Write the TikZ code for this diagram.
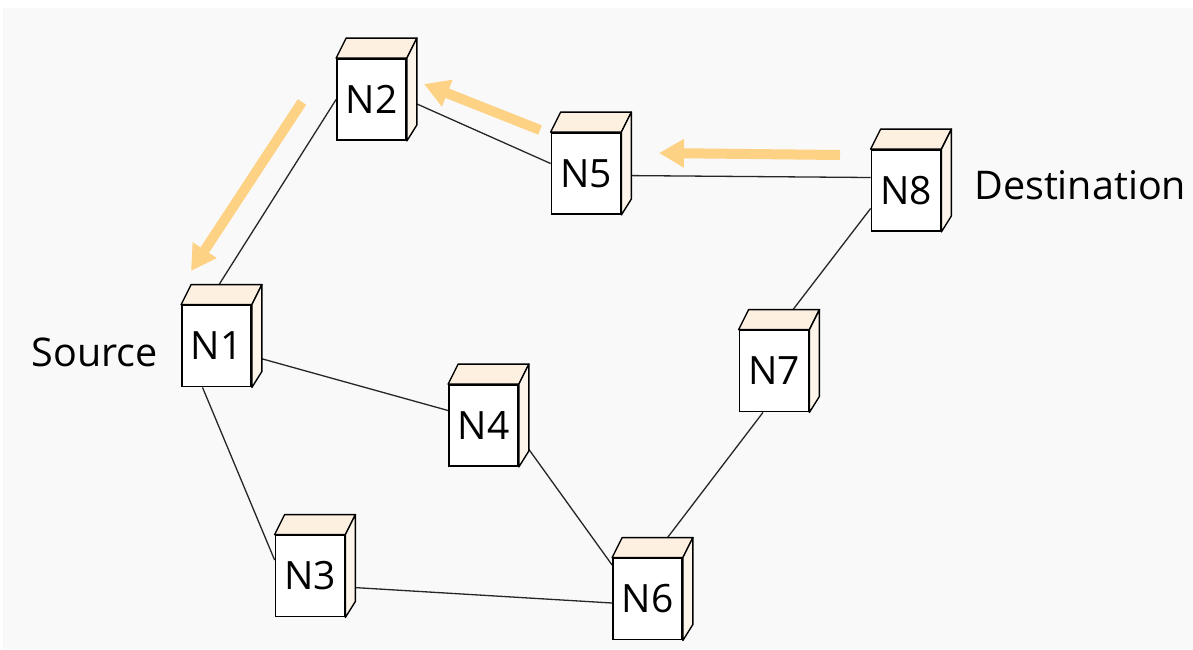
\documentclass[tikz,border=0pt]{standalone}
\usepackage{fontspec}
\setmainfont{Open Sans}
\usetikzlibrary{arrows.meta,backgrounds}
\definecolor{paper}{RGB}{249,249,249}
\definecolor{boxtop}{RGB}{253,240,224}
\definecolor{boxside}{RGB}{253,245,234}
\definecolor{route}{RGB}{254,210,132}
\tikzset{
  netbox/.style={draw, fill=white, line width=1.8pt, minimum width=69pt,
    minimum height=81pt, inner sep=0pt, font=\fontsize{39}{41}\selectfont},
  topface/.style={draw, fill=boxtop, line width=1.4pt, line join=round},
  sideface/.style={draw, fill=boxside, line width=1.4pt, line join=round},
  link/.style={line width=1.3pt, black!85},
  routearrow/.style={route, line width=10pt, -{Triangle[width=27pt,length=25pt]}},
  caption/.style={font=\fontsize{39.5}{41}\selectfont, inner sep=0pt}
}
\begin{document}
\begin{tikzpicture}[x=1pt,y=-1pt]
\useasboundingbox (0,0) rectangle (1193,649);

% routers (front faces)
\node[netbox] (n1) at (216.5,346) {N1};
\node[netbox] (n2) at (371.5,99.5) {N2};
\node[netbox] (n3) at (310,576) {N3};
\node[netbox] (n4) at (483.5,425.5) {N4};
\node[netbox] (n5) at (586,173.5) {N5};
\node[netbox] (n6) at (647.5,599) {N6};
\node[netbox] (n7) at (774,371) {N7};
\node[netbox] (n8) at (906,190.5) {N8};

% top and side faces of each box
\foreach \n in {n1,n2,n3,n4,n5,n6,n7,n8}{
  \draw[topface] (\n.north west) -- ([shift={(10,-20)}]\n.north west)
    -- ([shift={(10,-20)}]\n.north east) -- (\n.north east) -- cycle;
  \draw[sideface] (\n.north east) -- ([shift={(10,-20)}]\n.north east)
    -- ([shift={(10,-16)}]\n.south east) -- (\n.south east) -- cycle;
}

% labels
\node[caption, anchor=east] (src) at (158,352) {Source};
\node[caption, anchor=west] (dst) at (974,185) {Destination};

% paper and links between routers, behind the boxes
\begin{scope}[on background layer]
\fill[paper] (3,8) rectangle (1193,649);
\draw[link] (n2.west) -- ([shift={(0,-16)}]n1.north);
\draw[link] (n2.east) -- ([shift={(0,-10)}]n5.west);
\draw[link] ([shift={(0,2)}]n5.east) -- ([shift={(0,-13)}]n8.west);
\draw[link] ([shift={(0,18)}]n8.west) -- ([shift={(19,-20)}]n7.north);
\draw[link] ([shift={(-11,0)}]n7.south) -- ([shift={(20,-20)}]n6.north);
\draw[link] ([shift={(0,10)}]n1.east) -- ([shift={(0,-15)}]n4.west);
\draw[link] ([shift={(0,10)}]n4.east) -- ([shift={(0,-34)}]n6.west);
\draw[link] ([shift={(-14,0)}]n1.south) -- ([shift={(0,-16)}]n3.west);
\draw[link] ([shift={(0,11)}]n3.east) -- ([shift={(0,4)}]n6.west);
\end{scope}

% route taken back to the source
\coordinate (r1s) at (840,155);
\coordinate (r1e) at (659,153);
\coordinate (r2s) at (540,130);
\coordinate (r2e) at (424,84);
\coordinate (r3s) at (302,102);
\coordinate (r3e) at (191,271);
\draw[routearrow] (r1s) -- (r1e);
\draw[routearrow] (r2s) -- (r2e);
\draw[routearrow] (r3s) -- (r3e);
\end{tikzpicture}
\end{document}
